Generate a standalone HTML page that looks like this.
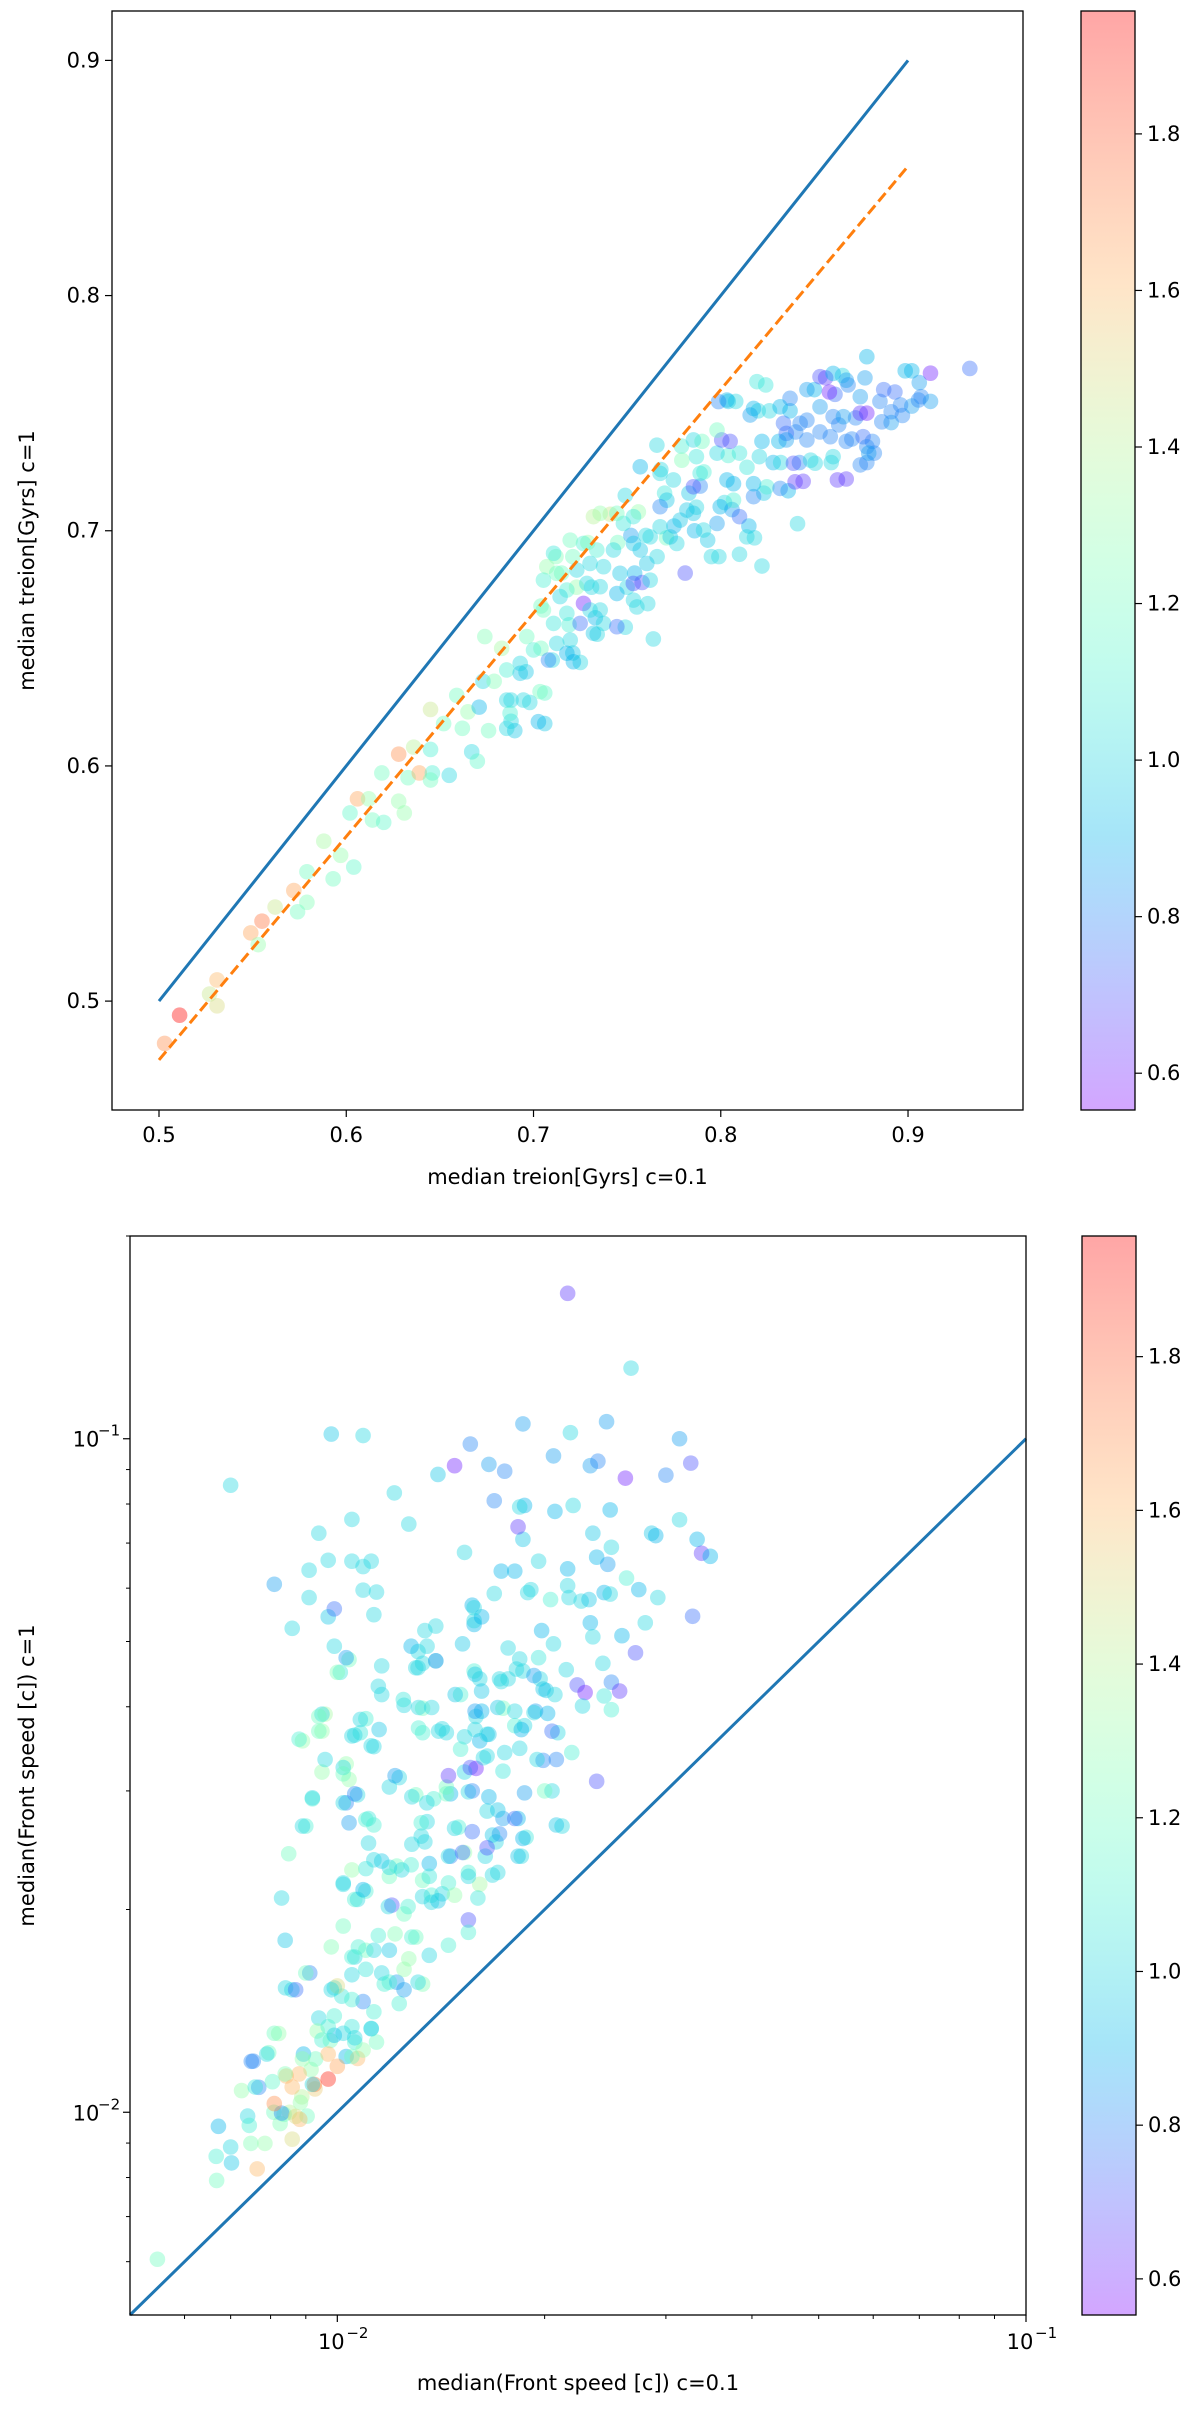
<!DOCTYPE html>
<html><head><meta charset="utf-8">
<style>
body{margin:0;background:#fff;}
svg text{font-family:"DejaVu Sans","Liberation Sans",sans-serif;fill:#000;}
</style></head>
<body>
<svg id="fig" width="1200" height="2412" viewBox="0 0 1200 2412" xmlns="http://www.w3.org/2000/svg">
<defs>
<linearGradient id="cbgrad" x1="0" y1="1" x2="0" y2="0"></linearGradient>
</defs>
<g id="top"></g>
<g id="bot"></g>
</svg>
<script>
// ---- Top chart data: median treion [Gyrs] c=0.1 vs c=1, colour value
const treionX = [.503,.511,.531,.531,.527,.549,.555,.553,.562,.572,.579,.574,.579,.588,.593,.597,.604,.602,.606,.614,.612,.619,.620,.628,.628,.631,.633,.639,.636,.645,.646,.645,.652,.655,.645,.659,.662,.665,.667,.671,.673,.674,.676,.679,.683,.688,.688,.690,.696,.698,.704,.706,.706,.704,.710,.712,.715,.719,.721,.723,.721,.725,.729,.731,.733,.734,.741,.745,.749,.750,.752,.754,.749,.756,.758,.760,.761,.764,.766,.768,.770,.771,.775,.779,.781,.783,.786,.787,.789,.790,.791,.793,.795,.799,.802,.804,.804,.805,.806,.808,.810,.814,.815,.818,.820,.822,.823,.824,.826,.828,.822,.831,.832,.836,.837,.840,.841,.842,.844,.846,.848,.850,.853,.856,.859,.861,.863,.865,.867,.868,.870,.872,.877,.878,.878,.878,.881,.882,.885,.891,.893,.897,.902,.902,.906,.907,.912,.912,.933,.670,
 .853,.860,.867,.858,.8745,.8745,.887,.8985,.9056,.896,.891,.886,.846,.837,.8317,.8193,.8033,.7988,.8157,.8175,.8335,.835,.8424,.853,.860,.8655,.8585,.867,.876,.878,.879,.860,.8504,.8388,.8397,.8745,.8623,.835,.846,.8206,.810,.798,.8005,.798,.8068,.8033,.8175,.8246,.8317,.7854,.787,.789,.7854,.7792,.7659,.757,.7676,.7747,.7712,.7676,.7819,.7783,.7854,.7908,.798,.810,.8139,.7997,.8068,.8175,.7765,.773,.7623,.7676,.7534,.748,.7445,.7356,.732,.757,.7534,.7427,.7338,.7267,.7196,.7107,.7071,.7124,.7231,.7302,.7374,.7462,.7533,.7605,.7623,.7445,.7356,.7285,.7178,.7053,.7142,.7267,.7302,.7356,.7534,.7552,.7178,.7107,.7053,.7249,.7374,.7445,.732,.7196,.7124,.6964,.700,.6929,.6857,.6929,.7178,.708,.7213,.7035,.6946,.6857,.6875,.6857,.7026];
const treionY = [.482,.494,.509,.498,.503,.529,.534,.524,.540,.547,.542,.538,.555,.568,.552,.562,.557,.580,.586,.577,.586,.597,.576,.605,.585,.580,.595,.597,.608,.607,.597,.624,.618,.596,.594,.630,.616,.623,.606,.625,.636,.655,.615,.636,.650,.619,.628,.615,.640,.627,.650,.631,.618,.668,.645,.689,.682,.660,.648,.676,.689,.644,.695,.676,.663,.656,.707,.695,.715,.676,.698,.682,.659,.708,.678,.698,.669,.654,.689,.726,.716,.697,.702,.736,.682,.716,.700,.710,.719,.738,.725,.696,.689,.689,.712,.732,.755,.738,.709,.755,.690,.727,.702,.697,.751,.738,.716,.762,.751,.729,.685,.738,.729,.717,.751,.742,.703,.729,.721,.747,.730,.760,.742,.765,.729,.758,.745,.766,.722,.762,.739,.748,.765,.774,.729,.750,.738,.733,.755,.746,.759,.749,.753,.768,.763,.757,.767,.755,.769,.602,
 .7655,.7669,.764,.759,.757,.750,.760,.768,.7556,.7535,.7506,.7463,.760,.7563,.7527,.7634,.7556,.7549,.7492,.752,.7457,.7414,.7457,.7527,.7485,.7485,.740,.738,.740,.7357,.733,.7315,.7287,.7287,.7208,.728,.7216,.7386,.7386,.7315,.733,.733,.7386,.7428,.720,.7216,.7145,.7187,.718,.7386,.7315,.7244,.7187,.730,.7364,.7272,.7244,.7216,.713,.7102,.7088,.7045,.7074,.7003,.7031,.706,.6974,.7102,.713,.720,.6946,.6974,.6974,.7017,.706,.7031,.7074,.7074,.706,.6918,.6946,.6918,.6918,.6946,.696,.6904,.6847,.6819,.6833,.6861,.6847,.6819,.6776,.6861,.679,.6733,.6762,.6776,.6748,.679,.672,.6691,.6663,.6663,.6705,.6676,.6649,.6606,.6663,.6606,.6606,.6592,.6564,.6535,.6521,.655,.6493,.6436,.6408,.6394,.6479,.645,.6443,.6316,.628,.628,.6224,.616,.6188];
const treionC = [1.7,1.95,1.6,1.5,1.45,1.65,1.75,1.3,1.45,1.65,1.25,1.2,1.2,1.35,1.2,1.3,1.15,1.15,1.65,1.2,1.3,1.2,1.15,1.7,1.3,1.3,1.2,1.65,1.4,1.1,1.1,1.45,1.2,1.0,1.2,1.2,1.2,1.3,1.0,0.9,1.0,1.25,1.2,1.25,1.35,1.0,1.0,0.95,0.95,1.0,1.2,1.15,0.95,1.2,1.0,1.25,1.2,1.1,0.95,1.3,1.2,1.0,1.3,1.0,0.9,1.0,1.45,1.2,1.0,1.0,0.85,0.9,1.0,1.3,0.7,1.0,1.0,1.0,1.0,1.0,1.05,1.2,0.9,1.1,0.7,0.95,0.9,1.0,0.8,1.2,1.1,0.95,1.0,1.0,1.0,1.1,0.95,0.7,0.85,1.0,1.0,1.05,0.9,1.0,1.0,0.9,0.95,1.05,1.0,0.9,1.0,0.9,1.0,0.9,0.9,0.8,1.0,0.8,0.65,0.8,1.0,0.9,0.8,0.65,1.0,0.75,0.8,1.0,0.65,0.8,0.8,0.8,0.85,0.9,0.8,0.6,0.8,0.8,0.8,0.85,0.75,0.8,0.85,0.9,0.85,0.8,0.6,0.85,0.75,1.15,
 0.7,0.9,0.85,0.6,0.85,0.65,0.75,0.9,0.8,0.8,0.8,0.8,0.85,0.8,0.9,1.05,0.9,0.8,0.85,0.9,0.75,0.75,0.8,0.85,0.8,0.85,0.8,0.8,0.75,0.8,0.85,1.0,1.0,0.7,0.65,0.8,0.65,0.85,0.8,1.0,1.05,1.0,0.7,1.2,0.9,0.9,0.8,1.1,0.8,1.0,1.05,1.05,0.7,1.25,1.0,0.9,1.0,1.0,0.95,0.8,0.95,0.95,0.95,1.0,0.85,0.75,1.0,0.9,1.1,0.9,1.0,0.95,1.0,1.0,1.05,1.05,1.2,1.3,1.4,0.95,0.95,1.0,1.1,1.1,1.2,1.05,1.3,1.2,1.0,1.0,1.0,0.95,0.7,0.95,1.0,0.9,1.0,1.0,1.1,1.1,1.0,0.6,1.0,1.0,1.0,1.0,1.05,1.05,1.2,0.75,1.0,0.75,0.95,1.0,1.0,1.2,1.1,1.0,1.1,0.95,0.9,0.8,0.9,1.2,1.0,1.0,1.1,1.0,0.9];
const treionTicksX = [0.5,0.6,0.7,0.8,0.9];
const treionTicksY = [0.5,0.6,0.7,0.8,0.9];
const treionDomainX = [0.4749,0.9614];
const treionDomainY = [0.4537,0.921];
const oneToOne = [0.5,0.9];
const fitLine = [[0.5,0.475],[0.9,0.855]];

// ---- Bottom chart data: median front speed [c]
const speedX = [.00548,.00672,.00667,.00668,.00700,.00702,.00741,.00745,.00726,.00755,.00769,.00765,.00749,.00795,.00822,.00805,.00809,.00785,.00859,.00841,.00843,.00852,.0086,.00826,.00837,.00893,.00912,.00888,.00904,.00916,.00928,.00926,.00884,.00882,.0094,.00935,.00977,.0099,.01015,.0099,.0103,.0106,.0107,.0109,.0112,.0113,.0114,.0109,.0117,.0122,.0123,.0125,.0130,.0133,.0106,.0105,.0110,.0102,.0102,.0098,.0107,.0110,.0110,.0116,.0120,.0119,.0122,.0128,.0125,.0133,.0137,.0137,.0142,.0146,.0153,.0155,.0161,.0164,.0170,.0171,.0172,.0185,.0188,.0174,.0183,.0150,.0155,.0165,.0146,.0135,.0134,.0138,.0130,.0123,.0119,.0111,.0103,.0107,.0092,.0090,.0095,.0096,.0103,.0104,.0108,.0113,.0106,.0110,.0089,.0095,.0096,.0116,.0125,.0133,.0133,.0131,.0131,.0128,.0134,.0139,.0135,.0139,.0142,.0144,.0151,.0152,.0157,.0158,.0158,.0158,.0161,.0159,.0161,.0165,.0162,.0165,.0159,.0174,.0177,.0181,.0184,.0187,.0197,.0201,.0207,.0194,.0202,.0215,.0223,.0229,.0209,.0199,.0219,.0205,.0212,.0227,.0238,.0243,.0250,.0257,.0244,.0250,.0196,.0198,.0206,.0186,.0184,.0172,.0177,.0189,.0191,.0204,.0216,.0216,.0217,.0226,.0232,.0233,.0235,.0238,.0244,.0247,.0249,.0263,.0274,.0280,.0292,.0259,.0271,.0250,.0235,.0249,.0220,.0207,.0187,.0184,.0186,.0183,.0169,.0181,.0173,.0169,.0162,.0158,.0153,.0196,.0206,.0218,.0186,.0156,.0148,.0140,.0166,.0175,.0233,.0239,.0262,.0300,.0246,.0314,.0326,.0314,.0286,.0290,.0333,.0338,.0348,.0328,.0216,.0267,.0098,.0109,.0070,.0081,.0086,.0091,.0091,.0094,.0097,.0099,.0097,.0105,.0105,.0109,.0109,.0112,.0114,.0113,.0121,.0127,.0099,.0104,.0101,.0095,.0116,.0153,.0144,.0133,.0153,
 .01147,.01247,.01312,.01371,.01312,.01403,.01483,.01585,.0162,.0173,.0182,.0193,.0199,.01585,.0171,.0181,.01585,.0166,.0185,.0193,.0205,.0151,.0163,.0175,.0195,.0208,.0174,.0156,.0145,.01213,.01283,.01349,.0144,.0157,.0166,.0171,.0181,.0187,.0200,.0208,.0186,.0183,.0168,.0165,.0157,.0148,.01324,.01324,.01283,.0145,.0152,.0136,.0124,.0136,.0145,.0155,.0168,.0160,.0148,.0140,.0133,.01267,.01186,.0155,.0155,.0145,.0136,.01283,.01213,.01147,.01073,.0105,.0113,.0119,.0110,.0116,.0119,.0125,.0131,.0127,.0100,.0105,.0098,.0097,.0099,.0105,.0112,.0106,.0102,.0095,.0093,.0097,.0105,.0100,.0089,.0092,.0097,.0088,.0084,.0086,.0081,.0079,.0076,.0075,.0083,.0087,.0081,.0090,.0087,.0084,.0083,.0085,.0089,.0092,.0102,.0104,.0110,.0113,.0111,.0105,.0102,.0106,.0109,.0119,.0113,.0106,.0102,.0102,.0094,.0094,.0088,.0100,.0103,.0108,.0105,.0112,.0115,.0139,.0130];
const speedY = [.00605,.00953,.00860,.00792,.00888,.00841,.00987,.00956,.01077,.01191,.01089,.00824,.00899,.01226,.01309,.0111,.0100,.00899,.0152,.0153,.01132,.0100,.00912,.00962,.00993,.0122,.0161,.01054,.00987,.01157,.01083,.0110,.01034,.00976,.0138,.0132,.01278,.0153,.01487,.01301,.0121,.01271,.01202,.01237,.01332,.0141,.01271,.0146,.0155,.0156,.0145,.0163,.0182,.0155,.0170,.0160,.0174,.0189,.0218,.0176,.0207,.0213,.0230,.0236,.0203,.0224,.0232,.0233,.0197,.0221,.0210,.0205,.0211,.0240,.0243,.0227,.0218,.0240,.0252,.0227,.0259,.0240,.0256,.0273,.0273,.0265,.0299,.0280,.0297,.0270,.0252,.0292,.0296,.0314,.0304,.0273,.0288,.0296,.0292,.0266,.0320,.0334,.0329,.0312,.0366,.0349,.0363,.0384,.0356,.0368,.0390,.0417,.0402,.0398,.0464,.0457,.0483,.0492,.0519,.0527,.0492,.0468,.0371,.0366,.0417,.0496,.0566,.0530,.0537,.0452,.0440,.0387,.0356,.0364,.0394,.0338,.0324,.0398,.0440,.0375,.0347,.0375,.0440,.0423,.0417,.0394,.0391,.0454,.0431,.0420,.0366,.0333,.0342,.0300,.0266,.0401,.0310,.0464,.0435,.0422,.0415,.0396,.0473,.0519,.0496,.0452,.0471,.0440,.0489,.0591,.0597,.0577,.0641,.0605,.0581,.0574,.0577,.0533,.0508,.0667,.0591,.0651,.0588,.0621,.0597,.0533,.0581,.0510,.0481,.0690,.0724,.0784,.0796,.0780,.0796,.0792,.0709,.0740,.0809,.0636,.0636,.0589,.0544,.0561,.0678,.0658,.0943,.1021,.1052,.0982,.0912,.0885,.0916,.0895,.0912,.0926,.0874,.0883,.106,.100,.092,.0758,.0724,.0718,.0709,.0676,.0669,.0545,.1644,.1273,.1016,.1011,.0853,.0608,.0523,.0638,.0581,.0724,.0544,.0559,.0660,.0759,.0658,.0596,.0646,.0658,.0592,.0548,.0831,.0747,.0492,.0470,.0450,.0390,.0460,.0320,.0304,.0366,.0361,
 .0429,.0410,.0399,.0399,.0372,.0368,.0417,.0447,.0422,.0436,.0455,.0445,.0425,.0394,.0399,.0394,.0370,.0364,.0370,.0392,.0368,.0346,.0336,.0342,.0334,.0334,.0321,.0325,.0316,.0316,.0294,.0288,.0297,.0300,.0294,.0281,.0273,.0298,.0300,.0267,.0255,.0240,.0258,.0247,.0261,.0264,.0269,.0257,.0250,.0240,.0243,.0234,.0229,.0224,.0219,.0224,.0225,.0208,.0210,.0206,.0209,.0202,.0202,.0193,.0185,.0177,.0171,.0182,.0184,.0183,.0176,.0170,.0174,.0174,.0163,.0161,.0156,.0152,.0156,.0169,.0154,.0147,.0152,.0134,.0139,.0134,.0133,.0129,.0131,.0128,.0120,.0122,.0121,.0117,.0120,.0110,.0112,.0114,.0114,.0109,.0131,.0122,.0109,.0119,.00997,.00986,.0103,.0161,.0152,.0180,.0208,.0242,.0266,.0293,.0288,.0269,.0272,.0267,.0251,.0229,.0219,.0207,.0214,.0231,.0237,.0297,.0325,.0318,.0387,.0368,.0358,.0450,.0473,.0383,.0362,.0350,.0370,.0468,.0457];
const speedC = [1.2,0.9,1.1,1.2,1.0,0.95,1.0,1.1,1.3,0.8,0.8,1.6,1.25,1.2,1.3,1.15,1.2,1.3,1.0,1.0,1.6,1.4,1.5,1.25,1.2,0.9,0.8,1.4,1.2,1.3,1.55,1.75,1.3,1.6,1.0,1.3,1.2,1.0,1.05,0.9,0.9,1.1,1.6,1.3,1.0,1.1,1.2,0.8,1.1,0.85,1.1,1.3,1.2,1.25,1.0,1.0,1.2,1.2,1.0,1.25,1.0,1.1,1.05,0.95,0.7,1.2,1.2,1.1,1.2,1.2,1.1,1.0,1.0,0.8,1.3,1.1,1.35,1.0,1.0,1.0,0.8,1.0,1.05,0.85,0.9,1.1,1.0,1.0,0.9,1.0,1.0,1.1,1.2,1.0,1.0,1.05,0.8,1.0,1.1,1.1,1.3,1.0,1.3,1.3,1.05,1.0,1.0,1.1,1.3,1.3,1.35,1.0,1.0,1.2,1.0,1.0,1.0,0.9,1.0,1.0,1.0,1.1,1.0,1.0,1.1,0.95,0.9,0.9,1.0,1.1,1.0,1.0,0.9,1.0,0.9,1.0,0.6,1.2,1.0,1.1,1.0,1.0,1.0,0.95,1.0,0.85,0.9,1.0,0.7,0.6,1.0,0.8,1.1,1.0,1.0,1.0,0.7,1.0,0.8,0.65,1.05,1.1,1.05,0.9,1.0,1.0,1.0,1.0,1.0,1.0,1.0,1.1,0.9,1.0,1.0,1.0,0.95,0.9,1.0,0.9,0.9,0.85,1.0,1.1,0.9,1.0,1.0,0.9,0.7,1.0,0.95,0.9,1.0,0.9,0.9,1.0,0.95,0.65,0.8,0.9,0.9,1.0,0.9,1.0,1.0,1.0,0.85,1.0,0.85,0.8,0.6,0.95,0.85,0.8,0.85,0.8,0.6,0.8,0.85,0.85,0.7,1.0,0.95,0.9,0.9,0.65,0.9,0.75,0.65,1.0,0.95,1.0,1.0,0.85,1.0,1.0,1.0,1.0,0.95,0.75,1.0,1.0,1.0,1.0,1.0,1.0,1.0,1.0,1.0,1.0,1.0,1.2,1.05,1.0,1.0,1.0,1.2,1.1,1.0,1.0,
 1.05,1.0,1.0,1.1,1.0,0.95,0.95,0.95,1.0,1.0,0.85,0.95,0.85,0.95,1.0,1.0,0.95,0.9,1.0,0.75,1.1,1.0,1.0,1.0,0.8,1.05,0.7,0.65,0.85,1.0,1.0,1.2,0.8,0.9,0.95,0.75,0.85,1.2,0.95,0.9,0.95,0.95,0.7,0.75,1.0,1.1,1.0,1.0,1.0,0.75,0.9,1.0,1.05,1.1,1.0,1.0,1.05,1.3,0.95,1.0,1.1,1.0,0.7,1.1,1.1,1.0,1.1,1.25,1.1,1.1,1.1,1.0,0.95,1.05,1.0,1.1,0.85,1.0,1.3,1.5,1.1,1.0,1.1,1.1,1.05,1.0,1.0,1.0,1.1,1.2,1.6,1.2,1.65,1.3,1.0,1.9,1.6,1.25,1.6,1.2,1.0,1.05,0.8,0.8,1.5,1.7,1.2,0.75,0.95,1.0,1.2,1.0,1.0,1.0,0.85,1.1,1.1,1.0,1.3,1.0,1.1,0.9,1.0,1.0,0.8,1.0,1.2,1.2,1.2,1.1,1.25,0.85,1.0,1.0,1.0,0.95,0.8,1.0,0.95];
const speedDomain = [0.005,0.2];
const speedDomainX = [0.005,0.1];
const cbTicks = [0.6,0.8,1.0,1.2,1.4,1.6,1.8];
const cbDomain = [0.553,1.957];

const NS = "http://www.w3.org/2000/svg";
function el(tag, attrs, parent){const e=document.createElementNS(NS,tag);for(const k in attrs)e.setAttribute(k,attrs[k]);if(parent)parent.appendChild(e);return e;}
function rainbow(v){let t=(v-cbDomain[0])/(cbDomain[1]-cbDomain[0]);t=Math.max(0,Math.min(1,t));
 const r=Math.min(1,Math.abs(2*t-0.5)),g=Math.sin(Math.PI*t),b=Math.cos(Math.PI*t/2);
 return `rgb(${Math.round(r*255)},${Math.round(g*255)},${Math.round(b*255)})`;}

const grad=document.getElementById('cbgrad');
for(let i=0;i<=20;i++){const v=cbDomain[0]+(cbDomain[1]-cbDomain[0])*i/20;el('stop',{offset:(i*5)+'%','stop-color':rainbow(v),'stop-opacity':0.35},grad);}

function colorbar(g,x,y0,y1){
 const w=54;
 const r=el('rect',{x:x,y:y0,width:w,height:y1-y0,fill:'url(#cbgrad)',stroke:'#000','stroke-width':1.3},g);
 
 
 const sy=v=>y1-(v-cbDomain[0])/(cbDomain[1]-cbDomain[0])*(y1-y0);
 cbTicks.forEach(v=>{const yy=sy(v);
  el('line',{x1:x+w,x2:x+w+7,y1:yy,y2:yy,stroke:'#000','stroke-width':1.2},g);
  const t=el('text',{x:x+w+12,y:yy+7,'font-size':21},g);t.textContent=v.toFixed(1);
  
  
 });
}

// ---------- TOP ----------
(function(){
 const g=document.getElementById('top');
 const L=112,R=1023,T=11,B=1110;
 const sx=v=>L+(v-treionDomainX[0])/(treionDomainX[1]-treionDomainX[0])*(R-L);
 const sy=v=>B-(v-treionDomainY[0])/(treionDomainY[1]-treionDomainY[0])*(B-T);
 const pts=el('g',{},g);
 
 
 treionX.forEach((x,i)=>{const c=el('circle',{cx:sx(x),cy:sy(treionY[i]),r:7.8,fill:rainbow(treionC[i]),'fill-opacity':0.4},pts);
  
  });
 const l1=el('line',{x1:sx(oneToOne[0]),y1:sy(oneToOne[0]),x2:sx(oneToOne[1]),y2:sy(oneToOne[1]),stroke:'#1f77b4','stroke-width':3},g);
 
 
 const l2=el('line',{x1:sx(fitLine[0][0]),y1:sy(fitLine[0][1]),x2:sx(fitLine[1][0]),y2:sy(fitLine[1][1]),stroke:'#ff7f0e','stroke-width':3,'stroke-dasharray':'11,5'},g);
 
 
 const fr=el('rect',{x:L,y:T,width:R-L,height:B-T,fill:'none',stroke:'#000','stroke-width':1.3},g);
 
 
 treionTicksX.forEach(v=>{const xx=sx(v);el('line',{x1:xx,x2:xx,y1:B,y2:B+7,stroke:'#000','stroke-width':1.2},g);
  const t=el('text',{x:xx,y:B+32,'font-size':21,'text-anchor':'middle'},g);t.textContent=v.toFixed(1);
  
  });
 treionTicksY.forEach(v=>{const yy=sy(v);el('line',{x1:L-7,x2:L,y1:yy,y2:yy,stroke:'#000','stroke-width':1.2},g);
  const t=el('text',{x:L-12,y:yy+7,'font-size':21,'text-anchor':'end'},g);t.textContent=v.toFixed(1);
  
  });
 const xt=el('text',{x:(L+R)/2,y:1184,'font-size':21,'text-anchor':'middle'},g);xt.textContent='median treion[Gyrs] c=0.1';
 
 
 const yt=el('text',{x:0,y:0,'font-size':21,'text-anchor':'middle',transform:`translate(34,${(T+B)/2}) rotate(-90)`},g);yt.textContent='median treion[Gyrs] c=1';
 
 
 colorbar(g,1081,T,B);
})();

// ---------- BOTTOM ----------
(function(){
 const g=document.getElementById('bot');
 const L=130,R=1026,T=1236,B=2315;
 const lg=Math.log10;
 const sx=v=>L+(lg(v)-lg(speedDomainX[0]))/(lg(speedDomainX[1])-lg(speedDomainX[0]))*(R-L);
 const sy=v=>B-(lg(v)-lg(speedDomain[0]))/(lg(speedDomain[1])-lg(speedDomain[0]))*(B-T);
 const pts=el('g',{},g);
 
 
 speedX.forEach((x,i)=>{const c=el('circle',{cx:sx(x),cy:sy(speedY[i]),r:7.8,fill:rainbow(speedC[i]),'fill-opacity':0.4},pts);
  
  });
 const l1=el('line',{x1:sx(0.005),y1:sy(0.005),x2:sx(0.1),y2:sy(0.1),stroke:'#1f77b4','stroke-width':3},g);
 
 
 const fr=el('rect',{x:L,y:T,width:R-L,height:B-T,fill:'none',stroke:'#000','stroke-width':1.3},g);
 
 
 [0.006,0.007,0.008,0.009,0.02,0.03,0.04,0.05,0.06,0.07,0.08,0.09].forEach(v=>{const xx=sx(v);el('line',{x1:xx,x2:xx,y1:B,y2:B+4,stroke:'#000','stroke-width':1},g);});
 [[0.01,'−2'],[0.1,'−1']].forEach(([v,e])=>{const xx=sx(v);el('line',{x1:xx,x2:xx,y1:B,y2:B+7,stroke:'#000','stroke-width':1.2},g);
  const t=el('text',{x:xx-6,y:B+34,'font-size':21,'text-anchor':'middle'},g);t.textContent='10';
  
  
  const s=el('text',{x:xx+9,y:B+23,'font-size':15},g);s.textContent=e;});
 [0.006,0.007,0.008,0.009,0.02,0.03,0.04,0.05,0.06,0.07,0.08,0.09,0.2].forEach(v=>{const yy=sy(v);el('line',{x1:L-4,x2:L,y1:yy,y2:yy,stroke:'#000','stroke-width':1},g);});
 [[0.1,'−1'],[0.01,'−2']].forEach(([v,e])=>{const yy=sy(v);el('line',{x1:L-7,x2:L,y1:yy,y2:yy,stroke:'#000','stroke-width':1.2},g);
  const t=el('text',{x:L-44,y:yy+8,'font-size':21,'text-anchor':'middle'},g);t.textContent='10';
  
  
  const s=el('text',{x:L-32,y:yy-3,'font-size':15},g);s.textContent=e;});
 const xt=el('text',{x:(L+R)/2,y:2390,'font-size':21,'text-anchor':'middle'},g);xt.textContent='median(Front speed [c]) c=0.1';
 
 
 const yt=el('text',{x:0,y:0,'font-size':21,'text-anchor':'middle',transform:`translate(34,${(T+B)/2}) rotate(-90)`},g);yt.textContent='median(Front speed [c]) c=1';
 
 
 colorbar(g,1082,T,B);
})();
</script>
</body></html>
